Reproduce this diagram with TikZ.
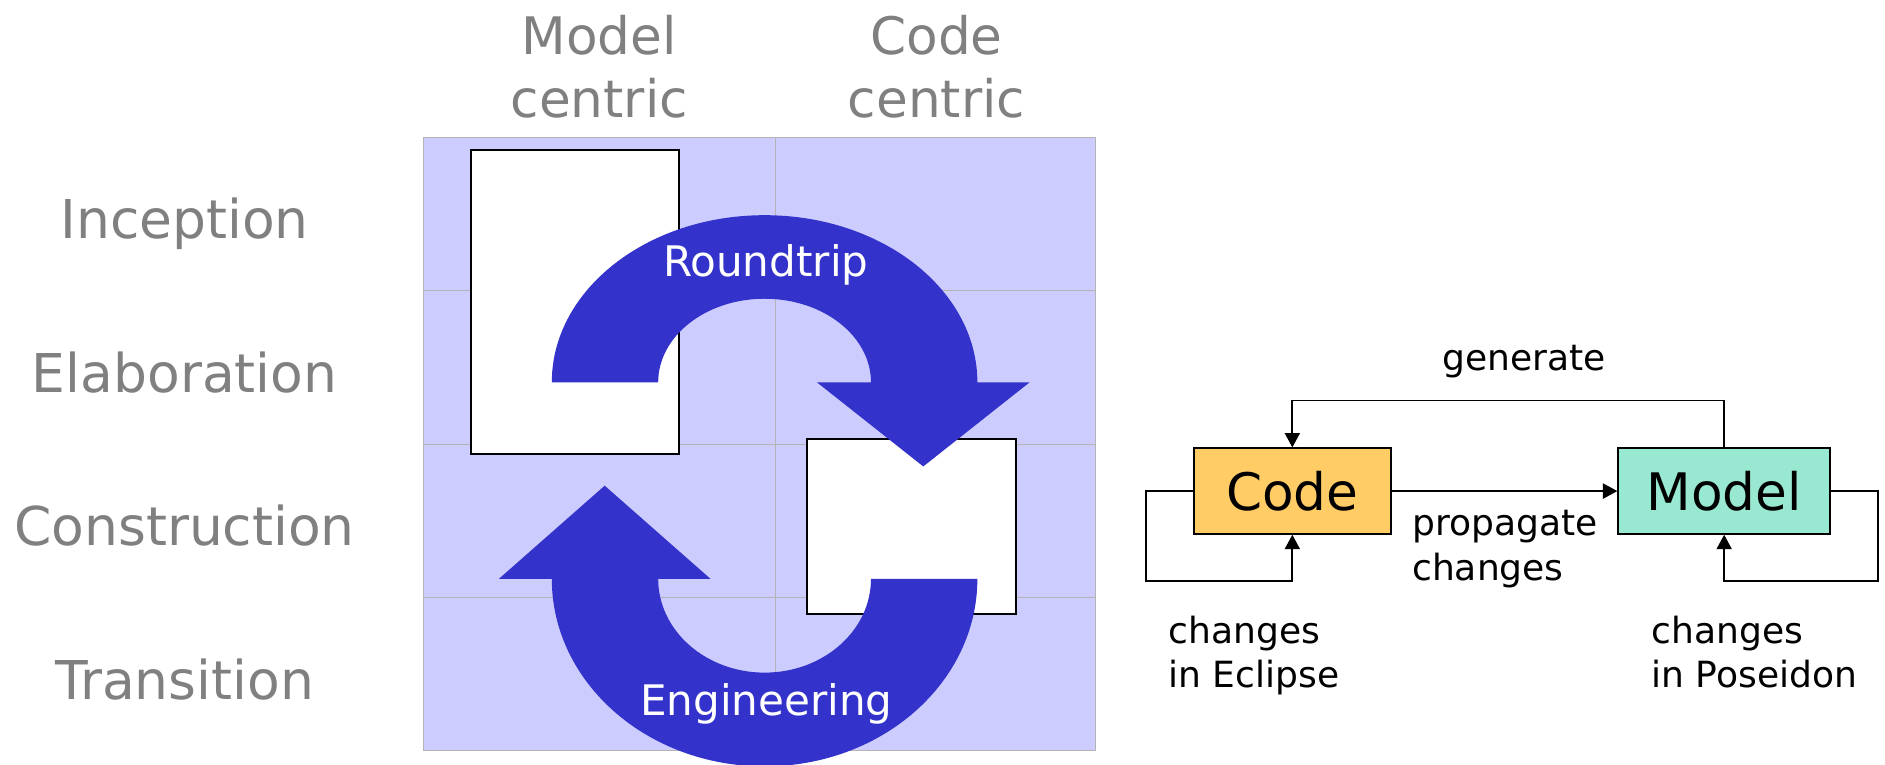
\documentclass[tikz,border=0pt]{standalone}
\usepackage{fontspec}
\setmainfont{DejaVu Sans}
\usetikzlibrary{arrows.meta}

\definecolor{phasefill}{HTML}{CCCCFF}
\definecolor{gridgray}{HTML}{B4B4B4}
\definecolor{cycleblue}{HTML}{3333CC}
\definecolor{labelgray}{HTML}{808080}
\definecolor{codefill}{HTML}{FFCC66}
\definecolor{modelfill}{HTML}{99E8D2}

\begin{document}
\begin{tikzpicture}[x=1pt,y=-1pt,
  phase/.style={anchor=base, inner sep=0pt, text=labelgray,
    font=\fontsize{44.5}{54}\selectfont},
  colhead/.style={anchor=base, inner sep=0pt, text=labelgray, align=center,
    font=\fontsize{43}{52.4}\selectfont},
  cyclelabel/.style={anchor=base, inner sep=0pt, text=white,
    font=\fontsize{35}{42}\selectfont},
  sheet/.style={draw=black, fill=white, line width=1.6pt},
  artefact/.style={draw=black, line width=1.6pt, inner sep=0pt,
    minimum height=71pt, font=\fontsize{43}{50}\selectfont},
  conn/.style={line width=1.5pt, -{Triangle[length=12pt,width=12.5pt]}},
  note/.style={inner sep=0pt, align=left, font=\fontsize{30}{37}\selectfont}
]
\useasboundingbox (0,0) rectangle (1568,636);

% phase / style grid
\fill[phasefill] (352,114) rectangle (911,624);
\draw[gridgray, line width=0.8pt] (352,114) rectangle (911,624);
\draw[gridgray, line width=0.8pt] (645,114) -- (645,624);
\foreach \yy in {242,369.5,497}
  \draw[gridgray, line width=0.8pt] (352,\yy) -- (911,\yy);

% white sheets
\draw[sheet] (392,125) rectangle (565,378);
\draw[sheet] (671,365) rectangle (845,511);

% upper curved arrow
\fill[cycleblue] (459,318)
  arc[start angle=180, end angle=0, x radius=177pt, y radius=139pt]
  -- (856.5,318) -- (768,388) -- (679.5,318) -- (724.5,318)
  arc[start angle=0, end angle=180, x radius=88.5pt, y radius=69.5pt]
  -- cycle;

% lower curved arrow
\fill[cycleblue] (813,481.5)
  arc[start angle=0, end angle=-180, x radius=177pt, y radius=156pt]
  -- (415,481.5) -- (503,404) -- (591,481.5) -- (547.5,481.5)
  arc[start angle=180, end angle=360, x radius=88.5pt, y radius=78pt]
  -- cycle;

\node[cyclelabel] (roundtrip) at (637,229.7) {Roundtrip};
\node[cyclelabel] (engineering) at (637.5,595.3) {Engineering};

% phase labels
\node[phase] (inception) at (153.5,198.8) {Inception};
\node[phase] (elaboration) at (153.5,326.5) {Elaboration};
\node[phase] (construction) at (153.5,453.9) {Construction};
\node[phase] (transition) at (153.5,581.6) {Transition};

% column headers (base anchor sits on the last line)
\node[colhead] (modelcentric) at (498.5,97.8) {Model\\centric};
\node[colhead] (codecentric) at (779,97.8) {Code\\centric};

% code / model round trip
\node[artefact, fill=codefill, minimum width=164pt] (code) at (1075,408.5) {Code};
\node[artefact, fill=modelfill, minimum width=176pt] (model) at (1434.2,408.5) {Model};

\coordinate (genrail) at (0,333.2);
\coordinate (eclipseloop) at (953,483.5);
\coordinate (poseidonloop) at (1562,483.5);

\draw[conn] (model.north) -- (model.north |- genrail) -| (code.north);
\draw[conn] (code.east) -- (model.west);
\draw[conn] (code.west) -- (code.west -| eclipseloop)
  |- (code.south |- eclipseloop) -- (code.south);
\draw[conn] (model.east) -- (model.east -| poseidonloop)
  |- (model.south |- poseidonloop) -- (model.south);

\node[note, anchor=base] (generate) at (1268,308.6) {generate};
\node[note, anchor=base west] (propagate) at (1174.5,482.7) {propagate\\changes};
\node[note, anchor=base west] (eclipse) at (971.8,571.9) {changes\\in Eclipse};
\node[note, anchor=base west] (poseidon) at (1373.5,571.9) {changes\\in Poseidon};
\end{tikzpicture}
\end{document}
